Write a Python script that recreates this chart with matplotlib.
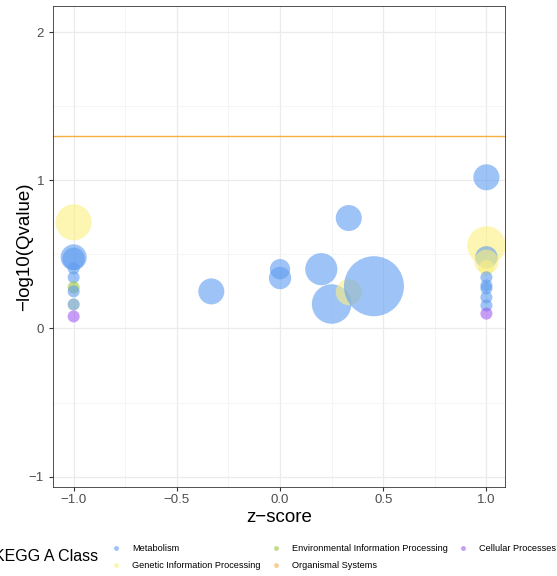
import matplotlib.pyplot as plt
from matplotlib.lines import Line2D
import numpy as np

plt.rcParams['font.family'] = ['Liberation Sans', 'DejaVu Sans']

# KEGG enrichment bubbles
z_score = [-1, -1, -1, -1, -1, -1, -1, -1, -1, -1,
           -0.333, 0, 0, 0.333, 0.2, 0.25, 0.333, 0.455,
           1, 1, 1, 1, 1, 1, 1, 1, 1, 1, 1]
neg_log_q = [0.716, 0.48, 0.47, 0.405, 0.345, 0.277, 0.25, 0.162, 0.162, 0.081,
             0.25, 0.40, 0.34, 0.745, 0.40, 0.165, 0.245, 0.285,
             1.02, 0.56, 0.48, 0.45, 0.41, 0.345, 0.29, 0.27, 0.21, 0.155, 0.10]
gene_count = [14, 7, 5, 1, 1, 1, 1, 1, 1, 1,
              7, 4, 5, 7, 11, 17, 7, 40,
              7, 16, 5, 6, 2, 1, 1, 1, 1, 1, 1]
kegg_class = ['Genetic Information Processing', 'Metabolism', 'Metabolism', 'Metabolism', 'Metabolism',
              'Environmental Information Processing', 'Metabolism', 'Genetic Information Processing',
              'Metabolism', 'Cellular Processes',
              'Metabolism', 'Metabolism', 'Metabolism', 'Metabolism', 'Metabolism', 'Metabolism',
              'Genetic Information Processing', 'Metabolism',
              'Metabolism', 'Genetic Information Processing', 'Metabolism', 'Genetic Information Processing',
              'Genetic Information Processing', 'Metabolism', 'Metabolism', 'Metabolism', 'Metabolism',
              'Metabolism', 'Cellular Processes']

legend_order = ['Metabolism', 'Genetic Information Processing',
                'Environmental Information Processing', 'Organismal Systems',
                'Cellular Processes']
class_colors = {
    'Metabolism': '#5E9CF0',
    'Genetic Information Processing': '#FCF080',
    'Environmental Information Processing': '#9BC53D',
    'Organismal Systems': '#F2B24C',
    'Cellular Processes': '#A35CF2',
}
q_cutoff = 0.05

fig = plt.figure(figsize=(5.57, 5.76), dpi=100)
ax = fig.add_axes([53 / 557, 1 - 487 / 576, 452 / 557, 481 / 576])

sizes = 29 + 46 * np.array(gene_count)
colors = [class_colors[c] for c in kegg_class]
ax.scatter(z_score, neg_log_q, s=sizes, c=colors, alpha=0.6, edgecolors='none', zorder=3)

ax.axhline(-np.log10(q_cutoff), color='#F5B041', linewidth=1, zorder=2)

ax.set_xlim(-1.1, 1.09)
ax.set_ylim(-1.07, 2.176)
ax.set_xticks([-1, -0.5, 0, 0.5, 1])
ax.set_xticklabels(['\u22121.0', '\u22120.5', '0.0', '0.5', '1.0'])
ax.set_yticks([-1, 0, 1, 2])
ax.set_yticklabels(['\u22121', '0', '1', '2'])
ax.set_xticks([-0.75, -0.25, 0.25, 0.75], minor=True)
ax.set_yticks([-0.5, 0.5, 1.5], minor=True)
ax.grid(which='major', color='#EBEBEB', linewidth=0.9, zorder=0)
ax.grid(which='minor', color='#F2F2F2', linewidth=0.5, zorder=0)
ax.set_axisbelow(True)
ax.tick_params(which='major', length=3, color='#333333', labelsize=9.5, labelcolor='#4D4D4D')
ax.tick_params(axis='x', which='major', pad=2)
ax.tick_params(which='minor', length=0)
for sp in ax.spines.values():
    sp.set_color('#333333')
    sp.set_linewidth(0.6)

ax.set_xlabel('z\u2212score', fontsize=13.5, labelpad=2)
ax.set_ylabel('\u2212log10(Qvalue)', fontsize=13.5, labelpad=-3)

handles = [Line2D([], [], marker='o', linestyle='none', markersize=3.5,
                  markerfacecolor=class_colors[c], markeredgecolor='none', alpha=0.6)
           for c in legend_order]
fig.legend(handles, legend_order, loc='center left', bbox_to_anchor=(0.186, 0.033),
           ncol=3, frameon=False, fontsize=6.6, handletextpad=1.2, columnspacing=1.2,
           labelspacing=0.9, handlelength=1.0)
fig.text(-0.011, 0.033, 'KEGG A Class', fontsize=11.5, va='center', ha='left')

fig.savefig('out.png', dpi=100)
